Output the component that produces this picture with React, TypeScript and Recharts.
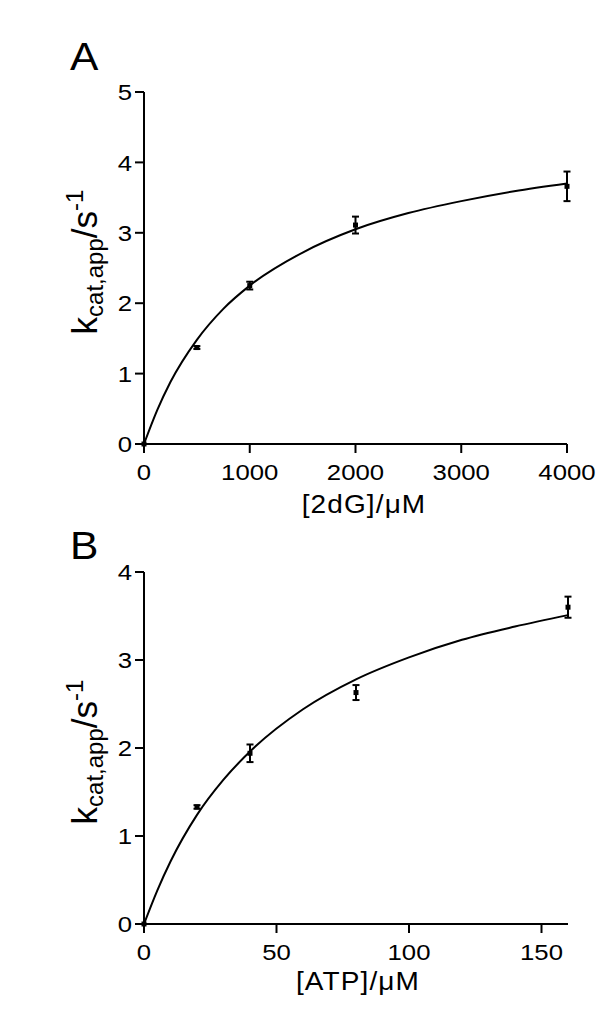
import { ComposedChart, Line, Scatter, ErrorBar, XAxis, YAxis } from 'recharts';

// panel A: rate vs [2dG]
const dgConc = [0, 500, 1000, 2000, 4000];
const dgRate = [0, 1.37, 2.25, 3.11, 3.66];
const dgErr = [0, 0.02, 0.055, 0.12, 0.21];
const dgFitConc = [0, 125, 250, 500, 750, 1000, 1500, 2000, 2500, 3000, 3500, 4000];
const dgFitRate = [0, 0.48, 0.88, 1.48, 1.92, 2.25, 2.72, 3.05, 3.28, 3.45, 3.59, 3.7];
const dgXTicks = [0, 1000, 2000, 3000, 4000];
const dgYTicks = [0, 1, 2, 3, 4, 5];

// panel B: rate vs [ATP]
const atpConc = [0, 20, 40, 80, 160];
const atpRate = [0, 1.33, 1.94, 2.63, 3.6];
const atpErr = [0, 0.02, 0.1, 0.085, 0.12];
const atpFitConc = [0, 5, 10, 20, 30, 40, 60, 80, 100, 120, 140, 160];
const atpFitRate = [0, 0.38, 0.71, 1.24, 1.64, 1.96, 2.44, 2.78, 3.03, 3.23, 3.38, 3.51];
const atpXTicks = [0, 50, 100, 150];
const atpYTicks = [0, 1, 2, 3, 4];

const FONT = '"Liberation Sans", Arial, Helvetica, sans-serif';
const STRETCH = 1.12;

const XTick = ({ x, y, payload }: any) => (
  <text
    transform={`translate(${x},${y}) scale(${STRETCH},1)`}
    y={27}
    textAnchor="middle"
    fontSize={23}
    fontFamily={FONT}
    fill="#000"
  >
    {payload.value}
  </text>
);

const YTick = ({ x, y, payload }: any) => (
  <text
    transform={`translate(${x},${y}) scale(${STRETCH},1)`}
    dy="0.36em"
    textAnchor="end"
    fontSize={23}
    fontFamily={FONT}
    fill="#000"
  >
    {payload.value}
  </text>
);

const Square = ({ cx, cy }: any) => <rect x={cx - 2.5} y={cy - 2.5} width={5} height={5} fill="#000" />;

interface PanelProps {
  offsetTop: number;
  letter: string;
  letterY: number;
  xTitle: string;
  titleX: number;
  titleY: number;
  yTitleY: number;
  height: number;
  top: number;
  right: number;
  xHeight: number;
  xDomain: [number, number];
  yDomain: [number, number];
  xTicks: number[];
  yTicks: number[];
  points: { x: number; y: number; err: number }[];
  fit: { x: number; y: number }[];
}

const Panel = (p: PanelProps) => (
  <div style={{ position: 'absolute', left: 0, top: p.offsetTop }}>
    <ComposedChart width={600} height={p.height} margin={{ top: p.top, right: p.right, left: 0, bottom: 0 }}>
      <XAxis
        type="number"
        dataKey="x"
        domain={p.xDomain}
        ticks={p.xTicks}
        height={p.xHeight}
        tickSize={9}
        tickMargin={0}
        tick={<XTick />}
        axisLine={{ stroke: '#000', strokeWidth: 2 }}
        tickLine={{ stroke: '#000', strokeWidth: 2 }}
        label={{
          content: () => (
            <text
              transform={`translate(${p.titleX},${p.titleY}) scale(${STRETCH},1)`}
              textAnchor="middle"
              fontSize={25}
              letterSpacing={1}
              fontFamily={FONT}
              fill="#000"
            >
              {p.xTitle}
            </text>
          ),
        }}
      />
      <YAxis
        type="number"
        dataKey="y"
        domain={p.yDomain}
        ticks={p.yTicks}
        width={144}
        tickSize={9}
        tickMargin={3}
        tick={<YTick />}
        axisLine={{ stroke: '#000', strokeWidth: 2 }}
        tickLine={{ stroke: '#000', strokeWidth: 2 }}
        label={{
          content: () => (
            <g fontFamily={FONT} fill="#000">
              <text transform={`translate(70,${p.letterY}) scale(${STRETCH},1)`} fontSize={38}>
                {p.letter}
              </text>
              <text transform={`translate(97,${p.yTitleY}) rotate(-90)`} textAnchor="middle" fontSize={35}>
                k
                <tspan fontSize={24} dy={6}>
                  cat,app
                </tspan>
                <tspan dy={-6}>/s</tspan>
                <tspan fontSize={24} dy={-14}>
                  -1
                </tspan>
              </text>
            </g>
          ),
        }}
      />
      <Line
        data={p.fit}
        dataKey="y"
        type="monotone"
        stroke="#000"
        strokeWidth={2}
        dot={false}
        activeDot={false}
        isAnimationActive={false}
      />
      <Scatter data={p.points} dataKey="y" shape={<Square />} isAnimationActive={false}>
        <ErrorBar dataKey="err" direction="y" width={3.5} stroke="#000" strokeWidth={2} isAnimationActive={false} />
      </Scatter>
    </ComposedChart>
  </div>
);

export default function App() {
  const dgPoints = dgConc.map((x, i) => ({ x, y: dgRate[i], err: dgErr[i] }));
  const dgFit = dgFitConc.map((x, i) => ({ x, y: dgFitRate[i] }));
  const atpPoints = atpConc.map((x, i) => ({ x, y: atpRate[i], err: atpErr[i] }));
  const atpFit = atpFitConc.map((x, i) => ({ x, y: atpFitRate[i] }));

  return (
    <div style={{ position: 'absolute', left: 0, top: 0, width: 600, height: 1015, background: '#fff' }}>
      <Panel
        offsetTop={0}
        letter="A"
        letterY={70}
        xTitle="[2dG]/μM"
        titleX={364}
        titleY={513}
        yTitleY={262}
        height={525}
        top={92}
        right={33}
        xHeight={81}
        xDomain={[0, 4000]}
        yDomain={[0, 5]}
        xTicks={dgXTicks}
        yTicks={dgYTicks}
        points={dgPoints}
        fit={dgFit}
      />
      <Panel
        offsetTop={525}
        letter="B"
        letterY={559 - 525}
        xTitle="[ATP]/μM"
        titleX={358}
        titleY={990 - 525}
        yTitleY={752 - 525}
        height={490}
        top={572 - 525}
        right={32}
        xHeight={91}
        xDomain={[0, 160]}
        yDomain={[0, 4]}
        xTicks={atpXTicks}
        yTicks={atpYTicks}
        points={atpPoints}
        fit={atpFit}
      />
    </div>
  );
}
